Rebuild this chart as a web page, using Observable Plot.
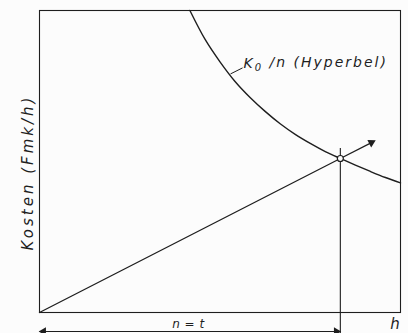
<!DOCTYPE html>
<html>
<head>
<meta charset="utf-8">
<script src="https://cdn.jsdelivr.net/npm/d3@7"></script>
<script src="https://cdn.jsdelivr.net/npm/@observablehq/plot@0.6"></script>
<style>
  html, body { margin: 0; padding: 0; background: #fcfcfc; }
  #chart { width: 408px; height: 333px; }
</style>
</head>
<body>
<div id="chart"></div>
<script>
// Hyperbola K0/n (n in arbitrary hours, cost in arbitrary units)
const hypN = [5.0, 5.5, 6.0, 6.5, 7.0, 7.5, 8.0, 8.5, 9.0, 9.5, 10.0, 10.5, 11.0, 11.5, 12.0];
const hypK = [10.0, 9.05, 8.3, 7.65, 7.12, 6.66, 6.25, 5.9, 5.6, 5.33, 5.1, 4.88, 4.67, 4.47, 4.29];
// Straight cost line from origin to intersection, plus its arrow continuation
const lineN = [0, 10.0];
const lineK = [0, 5.1];
const arrowN = [10.0, 11.1];
const arrowK = [5.1, 5.66];
// Intersection n = t
const tValue = 10.0;
const tCost = 5.1;
// Texts
const yLabel = "Kosten (Fmk/h)";
const curveLabelMain = "K";
const curveLabelSub = "0";
const curveLabelRest = " /n (Hyperbel)";
const curveLabel = curveLabelMain + curveLabelSub + curveLabelRest;
const bottomLabel = "n = t";
const unitLabel = "h";

const ink = "#1e1e1e";
const bg = "#fcfcfc";
const font = "'DejaVu Sans', sans-serif";

const hyp = hypN.map((n, i) => ({n, k: hypK[i]}));
const lin = lineN.map((n, i) => ({n, k: lineK[i]}));

const chart = Plot.plot({
  width: 408,
  height: 333,
  marginLeft: 39,
  marginRight: 8,
  marginTop: 10,
  marginBottom: 21,
  x: {domain: [0, 12], axis: null},
  y: {domain: [0, 10], axis: null},
  style: {background: bg, fontFamily: font, color: ink},
  marks: [
    Plot.frame({stroke: ink, strokeWidth: 1.1}),
    Plot.line(hyp, {x: "n", y: "k", curve: "catmull-rom", stroke: ink, strokeWidth: 1.4}),
    Plot.line(lin, {x: "n", y: "k", stroke: ink, strokeWidth: 1.3}),
    Plot.link([{}], {x1: arrowN[0], y1: arrowK[0], x2: arrowN[1], y2: arrowK[1], stroke: ink, strokeWidth: 1.3}),
    Plot.dot([{}], {x: arrowN[1], y: arrowK[1], symbol: "triangle2", r: 4, rotate: 63, fill: ink, stroke: "none", dx: -2, dy: 1}),
    // vertical line at n = t
    Plot.link([{}], {x1: tValue, x2: tValue, y1: -0.75, y2: tCost + 0.35, stroke: ink, strokeWidth: 1.1, clip: false}),
    // bottom dimension arrow
    Plot.link([{}], {x1: 0, x2: tValue, y1: -0.63, y2: -0.63, stroke: ink, strokeWidth: 1.1}),
    Plot.dot([{}], {x: 0, y: -0.63, symbol: "triangle2", r: 4, rotate: -90, fill: ink, stroke: "none", dx: 4}),
    Plot.dot([{}], {x: tValue, y: -0.63, symbol: "triangle2", r: 4, rotate: 90, fill: ink, stroke: "none", dx: -4}),
    Plot.dot([{}], {x: tValue, y: tCost, r: 3, fill: bg, stroke: ink, strokeWidth: 1.2}),
    // leader from curve to label
    Plot.link([{}], {x1: 6.35, y1: 7.9, x2: 6.75, y2: 8.1, stroke: ink, strokeWidth: 1}),
    Plot.text([curveLabel], {x: 6.78, y: 8.25, text: d => d, textAnchor: "start", fontSize: 14, fontStyle: "italic", fill: ink}),
    Plot.text([bottomLabel], {x: 4.95, y: -0.4, text: d => d, fontSize: 12, fontStyle: "italic", fill: ink}),
    Plot.text([unitLabel], {x: 11.82, y: -0.4, text: d => d, fontSize: 15, fontStyle: "italic", fill: ink}),
    Plot.text([yLabel], {frameAnchor: "left", textAnchor: "middle", text: d => d, rotate: -90, dx: -11, dy: 11, fontSize: 15, fontStyle: "italic", fill: ink})
  ]
});
// letter spacing and the lowered subscript of K0
d3.select(chart).selectAll("text").each(function () {
  const s = this.textContent;
  if (s === yLabel) {
    this.style.letterSpacing = "3px";
  } else if (s === bottomLabel) {
    this.style.letterSpacing = "0.5px";
  } else if (s === curveLabel) {
    this.style.letterSpacing = "2px";
    const t = d3.select(this);
    t.text(null);
    t.append("tspan").text(curveLabelMain);
    t.append("tspan").attr("dy", "0.3em").attr("font-size", 10).text(curveLabelSub);
    t.append("tspan").attr("dy", "-0.3em").text(curveLabelRest);
  }
});
document.getElementById("chart").appendChild(chart);
</script>
</body>
</html>
